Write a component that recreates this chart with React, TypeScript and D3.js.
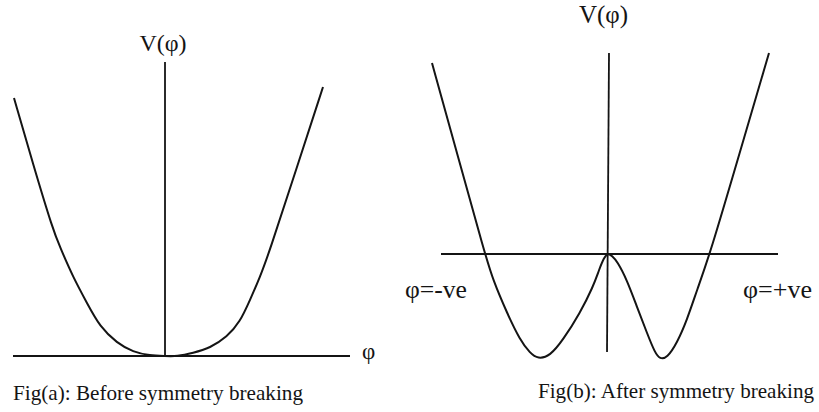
import React from "react";
import * as d3 from "d3";

// Fig(a): potential before symmetry breaking (phi, V)
const phiA = [-15.1, -13.2, -11.2, -10.5, -9.2, -7.8, -6.5, -4.8, -3.2, -1.5, 0, 1.2, 2.8, 4.5, 6.2, 7.5, 8.5, 9.5, 10.4, 13.1, 15.8];
const vA = [25.8, 19.2, 12.6, 10.9, 7.9, 5.3, 2.9, 1.3, 0.4, 0.05, 0, -0.05, 0.3, 0.8, 1.9, 3.4, 5.6, 7.9, 10.3, 18.6, 26.9];

// Fig(b): potential after symmetry breaking (phi, V)
const phiB = [-17.6, -14.95, -12.3, -11.5, -10.1, -8.8, -7.8, -7.0, -5.8, -4.5, -2.8, -1.5, -0.9, -0.4, 0, 0.4, 0.9, 1.9, 2.9, 3.9, 4.7, 5.2, 5.9, 6.9, 7.9, 8.9, 10.2, 13.15, 16.1];
const vB = [19.1, 9.55, 0, -2.6, -5.9, -8.6, -9.9, -10.5, -10.2, -8.6, -5.9, -3.3, -1.6, -0.35, 0.1, -0.2, -0.7, -2.6, -5.3, -7.9, -9.9, -10.5, -10.4, -8.9, -6.6, -3.6, 0, 10.05, 20.1];

// axis extents (data units)
const axisAPhi = [-15.2, 18.5];
const axisAV = [0, 29.4];
const axisBPhi = [-16.7, 17.0];
const axisBV = [-9.8, 20.1];

const labels = {
  vAxis: "V(φ)",
  phiA: "φ",
  neg: "φ=-ve",
  pos: "φ=+ve",
  capA: "Fig(a): Before symmetry breaking",
  capB: "Fig(b): After symmetry breaking",
};

const W = 819;
const H = 412;
const ink = "#141414";
const font = "'Liberation Serif', 'Times New Roman', Times, serif";

export default function App() {
  const xA = d3.scaleLinear().domain([-20, 20]).range([-35, 365]);
  const yA = d3.scaleLinear().domain([0, 30]).range([356, 56]);
  const xB = d3.scaleLinear().domain([-20, 20]).range([408, 808]);
  const yB = d3.scaleLinear().domain([0, 20]).range([254, 54]);

  const dataA = phiA.map((p, i) => [p, vA[i]] as [number, number]);
  const dataB = phiB.map((p, i) => [p, vB[i]] as [number, number]);

  const lineA = d3
    .line<[number, number]>()
    .x((d) => xA(d[0]))
    .y((d) => yA(d[1]))
    .curve(d3.curveBasis);
  const lineB = d3
    .line<[number, number]>()
    .x((d) => xB(d[0]))
    .y((d) => yB(d[1]))
    .curve(d3.curveBasis);

  const ts = { fontFamily: font, fill: ink } as React.CSSProperties;

  return (
    <svg
      width={W}
      height={H}
      style={{ position: "absolute", left: 0, top: 0, background: "#fff" }}
    >
      {/* Panel A */}
      <line x1={xA(axisAPhi[0])} x2={xA(axisAPhi[1])} y1={yA(0)} y2={yA(0)} stroke={ink} strokeWidth={2} />
      <line x1={xA(0)} x2={xA(0)} y1={yA(axisAV[0])} y2={yA(axisAV[1])} stroke={ink} strokeWidth={1.8} />
      <path d={lineA(dataA) || ""} fill="none" stroke={ink} strokeWidth={2} />
      <text x={xA(-0.2)} y={51} fontSize={24} textAnchor="middle" style={ts}>{labels.vAxis}</text>
      <text x={362} y={359} fontSize={23} style={ts}>{labels.phiA}</text>
      <text x={13} y={400} fontSize={22} textLength={290} lengthAdjust="spacingAndGlyphs" style={ts}>{labels.capA}</text>

      {/* Panel B */}
      <line x1={xB(axisBPhi[0])} x2={xB(axisBPhi[1])} y1={yB(0)} y2={yB(0)} stroke={ink} strokeWidth={2} />
      <line x1={xB(0) + 1} x2={xB(0) - 1} y1={yB(axisBV[1])} y2={yB(axisBV[0])} stroke={ink} strokeWidth={1.8} />
      <path d={lineB(dataB) || ""} fill="none" stroke={ink} strokeWidth={2} />
      <text x={603.5} y={23} fontSize={25} textAnchor="middle" style={ts}>{labels.vAxis}</text>
      <text x={405} y={298} fontSize={25} textLength={62} lengthAdjust="spacingAndGlyphs" style={ts}>{labels.neg}</text>
      <text x={743} y={298} fontSize={25} textLength={69} lengthAdjust="spacingAndGlyphs" style={ts}>{labels.pos}</text>
      <text x={538} y={398} fontSize={21} textLength={276} lengthAdjust="spacingAndGlyphs" style={ts}>{labels.capB}</text>
    </svg>
  );
}
